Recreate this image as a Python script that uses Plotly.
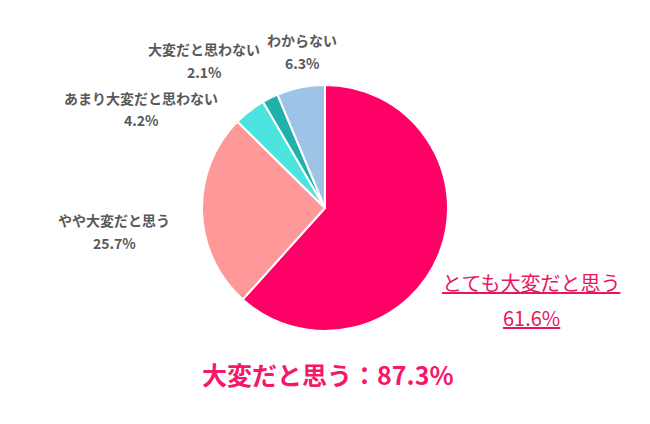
import plotly.graph_objects as go

categories = ["とても大変だと思う", "やや大変だと思う", "あまり大変だと思わない", "大変だと思わない", "わからない"]
values = [61.6, 25.7, 4.2, 2.1, 6.3]
colors = ["#FF0066", "#FF9999", "#4DE3DE", "#20B2AA", "#9DC3E6"]
summary_label = "大変だと思う"
summary_value = 87.3

# label anchor positions in pixels (x center, y of label line, y of value line)
label_pos = [
    (531, 282, 317),
    (114, 220, 243),
    (141, 98, 120),
    (204, 49, 72),
    (302, 40, 63),
]

W, H = 650, 424

fig = go.Figure()
fig.add_trace(go.Pie(
    labels=categories,
    values=values,
    sort=False,
    direction="clockwise",
    rotation=0,
    marker=dict(colors=colors, line=dict(color="white", width=2)),
    textinfo="none",
    hoverinfo="label+percent",
    showlegend=False,
    domain=dict(x=[202 / W, 448 / W], y=[1 - 331 / H, 1 - 85 / H]),
))

annotations = []
for i, (cat, val) in enumerate(zip(categories, values)):
    x, y1, y2 = label_pos[i]
    if i == 0:
        f1 = dict(family="Noto Sans CJK JP", size=20, color="#E8175D")
        annotations.append(dict(text=f"<u>{cat}</u>", x=x / W, y=1 - y1 / H, font=f1))
        annotations.append(dict(text=f"<u>{val:.1f}%</u>", x=x / W, y=1 - y2 / H, font=f1))
    else:
        f = dict(family="Noto Sans CJK JP", size=14, color="#595959", weight=600)
        annotations.append(dict(text=cat, x=x / W, y=1 - y1 / H, font=f))
        annotations.append(dict(text=f"{val:.1f}%", x=x / W, y=1 - y2 / H, font=f))

annotations.append(dict(
    text=f"<b>{summary_label}：{summary_value:.1f}%</b>",
    x=327 / W, y=1 - 374 / H,
    font=dict(family="Noto Sans CJK JP", size=25, color="#F5186A"),
))

for a in annotations:
    a.update(xref="paper", yref="paper", showarrow=False, xanchor="center", yanchor="middle")

fig.update_layout(
    width=W, height=H,
    margin=dict(l=0, r=0, t=0, b=0),
    paper_bgcolor="white",
    plot_bgcolor="white",
    annotations=annotations,
)

fig.write_html("out.html", config={"displayModeBar": False},
               post_script="document.body.style.margin='0';")
